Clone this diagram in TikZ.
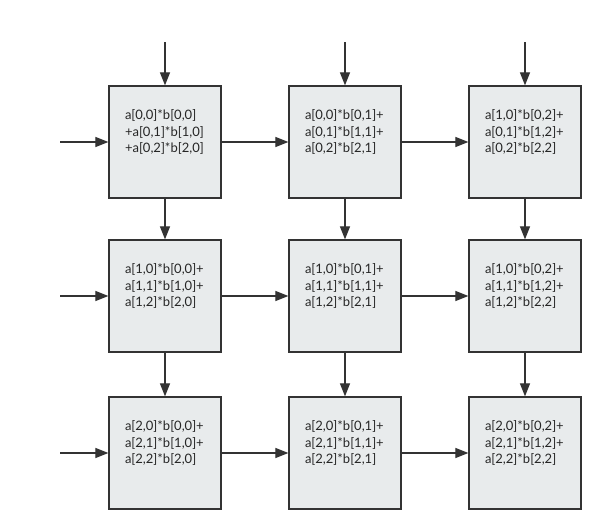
\documentclass[tikz,border=0pt]{standalone}
\usepackage{fontspec}
\setmainfont{Lato}
\usetikzlibrary{arrows.meta,positioning}

\definecolor{peFill}{HTML}{E8EBEC}
\definecolor{peLine}{HTML}{333333}

\tikzset{
  pe/.style={draw=peLine, line width=1.2pt, fill=peFill, minimum width=112pt, minimum height=112pt,
    inner xsep=0pt, inner ysep=0pt, text width=80pt, align=left, text=black!85,
    font=\fontsize{13}{16.5}\selectfont, execute at end node={\par\vspace*{20pt}}},
  flow/.style={-{Triangle[length=13pt,width=10pt]}, line width=1.1pt, draw=peLine},
}

\begin{document}
\begin{tikzpicture}[x=1pt, y=1pt]
	%%%%% START %%%%%
	\useasboundingbox (0,0) rectangle (600,-522);

	\node[pe] (c00) at (165,-142) {a[0,0]*b[0,0]\\+a[0,1]*b[1,0]\\+a[0,2]*b[2,0]};
	\node[pe] (c01) at (345,-142) {a[0,0]*b[0,1]+\\a[0,1]*b[1,1]+\\a[0,2]*b[2,1]};
	\node[pe] (c02) at (525,-142) {a[1,0]*b[0,2]+\\a[0,1]*b[1,2]+\\a[0,2]*b[2,2]};

	\node[pe] (c10) at (165,-296) {a[1,0]*b[0,0]+\\a[1,1]*b[1,0]+\\a[1,2]*b[2,0]};
	\node[pe] (c11) at (345,-296) {a[1,0]*b[0,1]+\\a[1,1]*b[1,1]+\\a[1,2]*b[2,1]};
	\node[pe] (c12) at (525,-296) {a[1,0]*b[0,2]+\\a[1,1]*b[1,2]+\\a[1,2]*b[2,2]};

	\node[pe] (c20) at (165,-453) {a[2,0]*b[0,0]+\\a[2,1]*b[1,0]+\\a[2,2]*b[2,0]};
	\node[pe] (c21) at (345,-453) {a[2,0]*b[0,1]+\\a[2,1]*b[1,1]+\\a[2,2]*b[2,1]};
	\node[pe] (c22) at (525,-453) {a[2,0]*b[0,2]+\\a[2,1]*b[1,2]+\\a[2,2]*b[2,2]};

	% free ends
	\coordinate (top0) at (165,-42);
	\coordinate (top1) at (345,-42);
	\coordinate (top2) at (525,-42);
	\coordinate (left0) at (60,-142);
	\coordinate (left1) at (60,-296);
	\coordinate (left2) at (60,-453);

	% inputs from the top
	\draw[flow] (top0) -- (c00);
	\draw[flow] (top1) -- (c01);
	\draw[flow] (top2) -- (c02);

	% inputs from the left
	\draw[flow] (left0) -- (c00);
	\draw[flow] (left1) -- (c10);
	\draw[flow] (left2) -- (c20);

	% rows
	\draw[flow] (c00) -- (c01);
	\draw[flow] (c01) -- (c02);
	\draw[flow] (c10) -- (c11);
	\draw[flow] (c11) -- (c12);
	\draw[flow] (c20) -- (c21);
	\draw[flow] (c21) -- (c22);

	% columns
	\draw[flow] (c00) -- (c10);
	\draw[flow] (c10) -- (c20);
	\draw[flow] (c01) -- (c11);
	\draw[flow] (c11) -- (c21);
	\draw[flow] (c02) -- (c12);
	\draw[flow] (c12) -- (c22);
	%%%%% END %%%%%
\end{tikzpicture}
\end{document}
